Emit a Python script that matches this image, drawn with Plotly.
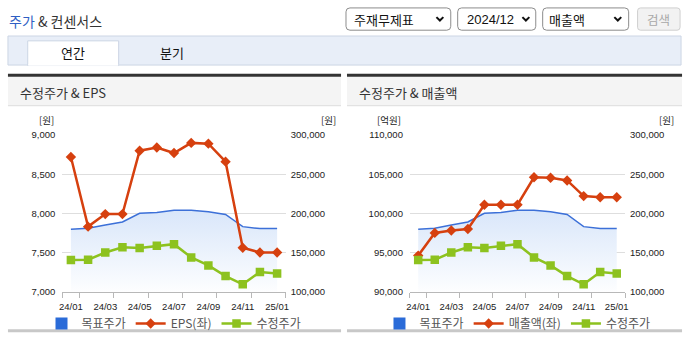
import plotly.graph_objects as go

W, H = 690, 345

months = ["24/01", "24/02", "24/03", "24/04", "24/05", "24/06", "24/07",
          "24/08", "24/09", "24/10", "24/11", "24/12", "25/01"]
eps = [8720, 7830, 7990, 7990, 8800, 8840, 8770, 8900, 8890, 8660, 7560, 7500, 7500]
revenue = [94600, 97500, 97800, 98000, 101100, 101100, 101100, 104600, 104550, 104200, 102200, 102050, 102050]
target_price = [179500, 181000, 185000, 189000, 200000, 201000, 204000, 204000, 202000, 198500, 183000, 180500, 180500]
adj_price = [140400, 140700, 149900, 156500, 155700, 158500, 160600, 143700, 133400, 119800, 109300, 125000, 123000]

eps_ticks = [7000, 7500, 8000, 8500, 9000]
rev_ticks = [90000, 95000, 100000, 105000, 110000]
price_ticks = [100000, 150000, 200000, 250000, 300000]

xs = list(range(len(months)))

FONT = "Noto Sans CJK KR"
NUMFONT = "Liberation Sans"
RED = "#d6400f"
GREEN = "#8dc21f"
BLUE = "#3c70d8"
LEGBLUE = "#2a6bd8"


def fx(x):
    return x / W


def fy(y):
    return 1 - y / H


def P(x, y):
    return f"{fx(x):.5f},{fy(y):.5f}"


def rrect(x0, y0, x1, y1, r):
    return ("M" + P(x0 + r, y0) + " L" + P(x1 - r, y0) + " Q" + P(x1, y0) + " " + P(x1, y0 + r) +
            " L" + P(x1, y1 - r) + " Q" + P(x1, y1) + " " + P(x1 - r, y1) +
            " L" + P(x0 + r, y1) + " Q" + P(x0, y1) + " " + P(x0, y1 - r) +
            " L" + P(x0, y0 + r) + " Q" + P(x0, y0) + " " + P(x0 + r, y0) + " Z")


fig = go.Figure()

panels = [
    dict(xl=59, xr=285, xa="x", base="y", over="y2", top="y3", left=eps, lname="EPS(좌)",
         lticks=eps_ticks, legend="legend"),
    dict(xl=410.7, xr=628.3, xa="x2", base="y4", over="y5", top="y6", left=revenue, lname="매출액(좌)",
         lticks=rev_ticks, legend="legend2"),
]

for p in panels:
    # target price area (right axis, base layer)
    fig.add_trace(go.Scatter(
        x=xs, y=target_price, xaxis=p["xa"], yaxis=p["base"], mode="lines",
        line=dict(color=BLUE, width=1.5), fill="tozeroy",
        fillgradient=dict(type="vertical", colorscale=[[0, "rgba(255,255,255,1)"], [1, "rgba(218,231,250,1)"]],
                          start=price_ticks[0], stop=max(target_price)),
        showlegend=False, hoverinfo="skip"))
    # legend proxy for target price
    fig.add_trace(go.Scatter(
        x=[None], y=[None], xaxis=p["xa"], yaxis=p["base"], mode="markers",
        marker=dict(symbol="square", size=12, color=LEGBLUE),
        name="목표주가", legend=p["legend"]))
    fig.add_trace(go.Scatter(
        x=xs, y=p["left"], xaxis=p["xa"], yaxis=p["over"], mode="lines+markers",
        line=dict(color=RED, width=2.5), marker=dict(symbol="diamond", size=8, color=RED),
        name=p["lname"], legend=p["legend"]))
    fig.add_trace(go.Scatter(
        x=xs, y=adj_price, xaxis=p["xa"], yaxis=p["top"], mode="lines+markers",
        line=dict(color=GREEN, width=2.5), marker=dict(symbol="square", size=8.5, color=GREEN),
        name="수정주가", legend=p["legend"]))

ytop, ybot = 133.3, 295
ydom = [fy(ybot), fy(ytop)]
tickfont = dict(family=NUMFONT, size=9.5, color="#222")

xcommon = dict(range=[-0.5, len(months) - 0.5], tickmode="array", tickvals=xs[::2],
               ticktext=months[::2], ticks="", showgrid=False, zeroline=False,
               showline=True, linecolor="#b8b8b8", linewidth=1, tickfont=tickfont,
               ticklabelstandoff=6,
               minor=dict(tickmode="array", tickvals=[v + 0.5 for v in xs[::2]] + [-0.5],
                          ticks="outside", ticklen=5, tickcolor="#b8b8b8"),
               fixedrange=True)

price_axis = dict(domain=ydom, side="right", range=[price_ticks[0], price_ticks[-1]], tickvals=price_ticks,
                  tickformat=",", gridcolor="#dedede", showgrid=True, zeroline=False, tickfont=tickfont,
                  ticklabelstandoff=4)
hidden_axis = dict(domain=ydom, range=[price_ticks[0], price_ticks[-1]], visible=False, showgrid=False)

legend_common = dict(orientation="h", xanchor="center", y=fy(313), yanchor="top",
                     font=dict(family=FONT, size=12, color="#555"), itemwidth=30,
                     bgcolor="rgba(0,0,0,0)", traceorder="normal")

fig.update_layout(
    width=W, height=H, margin=dict(l=0, r=0, t=0, b=0),
    paper_bgcolor="white", plot_bgcolor="rgba(0,0,0,0)",
    font=dict(family=FONT, color="#333"),
    xaxis=dict(domain=[fx(59), fx(285)], anchor="y", **xcommon),
    xaxis2=dict(domain=[fx(410.7), fx(628.3)], anchor="y4", **xcommon),
    yaxis=dict(anchor="x", **price_axis),
    yaxis2=dict(domain=ydom, anchor="x", overlaying="y", side="left",
                range=[eps_ticks[0], eps_ticks[-1]], tickvals=eps_ticks, tickformat=",",
                showgrid=False, zeroline=False, tickfont=tickfont, ticklabelstandoff=6),
    yaxis3=dict(anchor="x", overlaying="y", **hidden_axis),
    yaxis4=dict(anchor="x2", **price_axis),
    yaxis5=dict(domain=ydom, anchor="x2", overlaying="y4", side="left",
                range=[rev_ticks[0], rev_ticks[-1]], tickvals=rev_ticks, tickformat=",",
                showgrid=False, zeroline=False, tickfont=tickfont, ticklabelstandoff=6),
    yaxis6=dict(anchor="x2", overlaying="y4", **hidden_axis),
    legend=dict(x=fx((59 + 285) / 2), **legend_common),
    legend2=dict(x=fx((410.7 + 628.3) / 2), **legend_common),
    hovermode=False,
)

shapes = []
# tab bar
shapes.append(dict(type="rect", xref="paper", yref="paper", x0=fx(4), x1=fx(685), y0=fy(61), y1=fy(31),
                   fillcolor="#e8eef8", line=dict(color="#ccd5e4", width=1), layer="below"))
shapes.append(dict(type="path", xref="paper", yref="paper",
                   path="M" + P(24, 61.5) + " L" + P(24, 36) + " L" + P(116, 36) + " L" + P(116, 61.5) + " Z",
                   fillcolor="white", line=dict(color="#ccd5e4", width=1), layer="below"))
shapes.append(dict(type="line", xref="paper", yref="paper", x0=fx(24.5), x1=fx(115.5), y0=fy(61), y1=fy(61),
                   line=dict(color="white", width=1.5), layer="below"))

# dropdowns
for x0, x1, chev in [(346, 452, 441), (459, 538, 528), (545, 632, 621)]:
    shapes.append(dict(type="path", xref="paper", yref="paper", path=rrect(x0, 2, x1, 25, 4),
                       fillcolor="white", line=dict(color="#8c8c8c", width=1), layer="below"))
    shapes.append(dict(type="path", xref="paper", yref="paper",
                       path="M" + P(chev - 3.5, 11.5) + " L" + P(chev, 15) + " L" + P(chev + 3.5, 11.5),
                       line=dict(color="#111", width=2)))
shapes.append(dict(type="path", xref="paper", yref="paper", path=rrect(641, 2, 684, 25, 3),
                   fillcolor="#f2f2f2", line=dict(color="#cfcfcf", width=1), layer="below"))

# panels
for x0, x1 in [(4, 341), (347, 686)]:
    shapes.append(dict(type="rect", xref="paper", yref="paper", x0=fx(x0), x1=fx(x1), y0=fy(103), y1=fy(73),
                       fillcolor="#f4f4f4", line=dict(width=0), layer="below"))
    shapes.append(dict(type="line", xref="paper", yref="paper", x0=fx(x0), x1=fx(x1), y0=fy(71.5), y1=fy(71.5),
                       line=dict(color="#333333", width=3), layer="below"))
    shapes.append(dict(type="line", xref="paper", yref="paper", x0=fx(x0), x1=fx(x1), y0=fy(103), y1=fy(103),
                       line=dict(color="#dcdcdc", width=1), layer="below"))
    shapes.append(dict(type="line", xref="paper", yref="paper", x0=fx(x0), x1=fx(x1), y0=fy(335.5), y1=fy(335.5),
                       line=dict(color="#c8c8c8", width=3), layer="below"))

fig.update_layout(shapes=shapes)

ann = []


def text(x, y, s, size=13, color="#333", xanchor="left", family=FONT):
    ann.append(dict(xref="paper", yref="paper", x=fx(x), y=fy(y), text=s, showarrow=False,
                    xanchor=xanchor, yanchor="middle", font=dict(family=family, size=size, color=color)))


text(3, 15, "<span style='color:#2f5fc4'>주가</span> & 컨센서스", size=14, color="#333")
text(352, 13.5, "주재무제표", size=13, color="#111")
text(466, 13.5, "2024/12", size=13, color="#111", family=NUMFONT)
text(549, 13.5, "매출액", size=13, color="#111")
text(662.5, 13.5, "검색", size=12.5, color="#a8a8a8", xanchor="center")
text(70, 48, "연간", size=13, color="#111", xanchor="center")
text(170, 48, "분기", size=13, color="#111", xanchor="center")
text(14, 89, "수정주가 & EPS", size=13, color="#333")
text(357, 89, "수정주가 & 매출액", size=13, color="#333")
text(43, 118, "[원]", size=9.5, color="#222", xanchor="center")
text(328, 118, "[원]", size=9.5, color="#222", xanchor="center")
text(390, 118, "[억원]", size=9.5, color="#222", xanchor="center")
text(670, 118, "[원]", size=9.5, color="#222", xanchor="center")
fig.update_layout(annotations=ann)

fig.write_html("out.html", config={"displayModeBar": False})
